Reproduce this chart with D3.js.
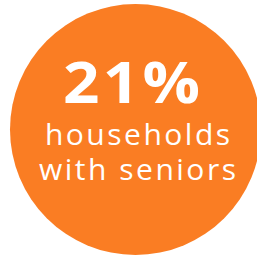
<!DOCTYPE html>
<html><head><meta charset="utf-8">
<script src="https://cdn.jsdelivr.net/npm/d3@7"></script>
<style>html,body{margin:0;padding:0;background:#fff;overflow:hidden}</style>
</head><body>
<svg id="c" width="257" height="259"></svg>
<script>
const value = [21];
const labelLines = ["households", "with seniors"];
const color = "#FA7D23";

const svg = d3.select("#c");
const r = d3.scaleLinear().domain([0, 1]).range([0, 125.5]);
svg.append("circle").attr("cx", 135.5).attr("cy", 129.5).attr("r", r(1)).attr("fill", color);

svg.append("g").attr("transform", "translate(" + (131.5 + 1.7) + ",103) scale(1.12,1)")
  .append("text").attr("x", 0).attr("y", 0)
  .attr("text-anchor", "middle").attr("fill", "#fff")
  .attr("font-family", "Open Sans").attr("font-weight", 700).attr("font-size", 57)
  .attr("letter-spacing", 3)
  .text(d3.format(".0f")(value[0]) + "%");

svg.selectAll("text.lbl").data(labelLines).join("text").attr("class", "lbl")
  .attr("x", 137.5 + 1.25).attr("y", (d, i) => 145 + i * 35)
  .attr("text-anchor", "middle").attr("fill", "#fff")
  .attr("font-family", "Open Sans").attr("font-size", 30)
  .attr("letter-spacing", 2.5)
  .text(d => d);
</script>
</body></html>
